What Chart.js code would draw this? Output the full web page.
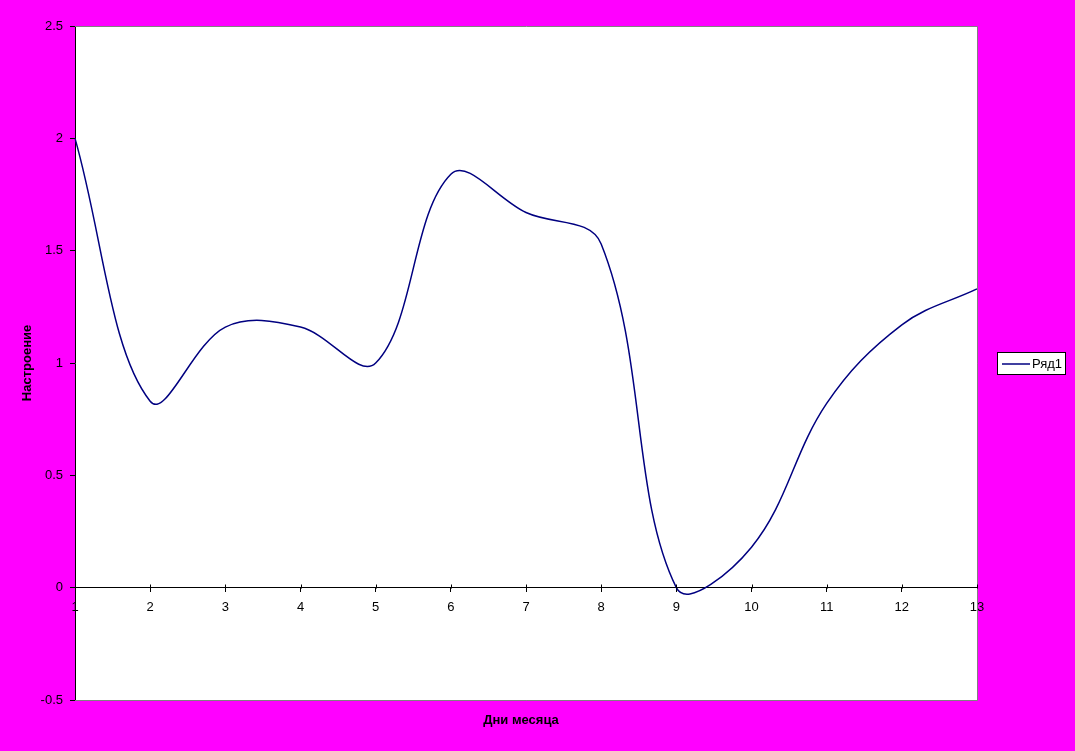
<!DOCTYPE html>
<html>
<head>
<meta charset="utf-8">
<script src="https://cdn.jsdelivr.net/npm/chart.js@4.4.1/dist/chart.umd.min.js"></script>
<style>
  html, body { margin: 0; padding: 0; background: #ff00ff; }
  #wrap { width: 1075px; height: 751px; }
</style>
</head>
<body>
<div id="wrap"><canvas id="grafico"></canvas></div>
<script>
// Datos del gráfico
const dias = ["1", "2", "3", "4", "5", "6", "7", "8", "9", "10", "11", "12", "13"];
const animo = [2.0, 0.83, 1.16, 1.16, 1.0, 1.84, 1.67, 1.53, 0.0, 0.18, 0.82, 1.17, 1.33];
const nombreSerie = "Ряд1";
const tituloX = "Дни месяца";
const tituloY = "Настроение";

const fuente = "'Liberation Sans', Arial, sans-serif";
const azul = "#000080";

// Fondo magenta + área blanca, bordes grises, título X y leyenda
const fondoPlugin = {
    id: 'fondo',
    beforeDraw(chart) {
        const { ctx, chartArea: a } = chart;
        ctx.save();
        ctx.fillStyle = '#ff00ff';
        ctx.fillRect(0, 0, chart.width, chart.height);
        ctx.fillStyle = '#ffffff';
        ctx.fillRect(a.left, a.top, a.right - a.left, a.bottom - a.top);
        ctx.restore();
    },
    afterDraw(chart) {
        const { ctx, chartArea: a } = chart;
        ctx.save();
        // borde gris
        ctx.strokeStyle = '#808080';
        ctx.lineWidth = 1;
        ctx.beginPath();
        ctx.moveTo(a.left, a.top + 0.5);
        ctx.lineTo(a.right + 0.5, a.top + 0.5);
        ctx.lineTo(a.right + 0.5, a.bottom + 0.5);
        ctx.lineTo(a.left, a.bottom + 0.5);
        ctx.stroke();

        // marcas del eje X hacia arriba
        const x = chart.scales.x;
        const y0 = Math.round(chart.scales.y.getPixelForValue(0)) + 0.5;
        ctx.strokeStyle = '#000';
        ctx.beginPath();
        x.ticks.forEach((t, i) => {
            const px = Math.round(x.getPixelForTick(i)) + 0.5;
            ctx.moveTo(px, y0 - 4);
            ctx.lineTo(px, y0);
        });
        ctx.stroke();

        // título del eje X
        ctx.fillStyle = '#000';
        ctx.font = "bold 13px " + fuente;
        ctx.textAlign = 'center';
        ctx.textBaseline = 'middle';
        ctx.fillText(tituloX, 521, 720);

        // leyenda
        ctx.fillStyle = '#fff';
        ctx.fillRect(997, 352, 69, 23);
        ctx.strokeStyle = '#000';
        ctx.strokeRect(997.5, 352.5, 68, 22);
        ctx.strokeStyle = azul;
        ctx.lineWidth = 1.5;
        ctx.beginPath();
        ctx.moveTo(1002, 364);
        ctx.lineTo(1030, 364);
        ctx.stroke();
        ctx.fillStyle = '#000';
        ctx.font = "13px " + fuente;
        ctx.textAlign = 'left';
        ctx.fillText(chart.data.datasets[0].label, 1032, 364);
        ctx.restore();
    }
};

new Chart(document.getElementById('grafico'), {
    type: 'line',
    data: {
        labels: dias,
        datasets: [{
            label: nombreSerie,
            data: animo,
            borderColor: azul,
            borderWidth: 1.5,
            pointRadius: 0,
            tension: 0.37,
            fill: false
        }]
    },
    options: {
        responsive: true,
        maintainAspectRatio: false,
        animation: false,
        layout: { padding: { left: 0, top: 26, right: 98, bottom: 51 } },
        plugins: {
            legend: { display: false },
            tooltip: { enabled: false }
        },
        scales: {
            x: {
                type: 'category',
                position: { y: 0 },
                offset: false,
                grid: { drawOnChartArea: false, drawTicks: true, tickLength: 4, color: '#000' },
                border: { color: '#000', width: 1 },
                ticks: { color: '#000', font: { family: fuente, size: 13 }, padding: 8, maxRotation: 0, autoSkip: false }
            },
            y: {
                min: -0.5,
                max: 2.5,
                afterFit(scale) { scale.width = 75; },
                grid: { drawOnChartArea: false, drawTicks: true, tickLength: 5, color: '#000' },
                border: { color: '#000', width: 1 },
                ticks: {
                    stepSize: 0.5,
                    color: '#000',
                    font: { family: fuente, size: 13 },
                    padding: 7,
                    callback: (v) => String(Number(v))
                },
                title: {
                    display: true,
                    text: tituloY,
                    color: '#000',
                    font: { family: fuente, size: 13, weight: 'bold' },
                    padding: { top: 20, bottom: 0 }
                }
            }
        }
    },
    plugins: [fondoPlugin]
});
</script>
</body>
</html>
